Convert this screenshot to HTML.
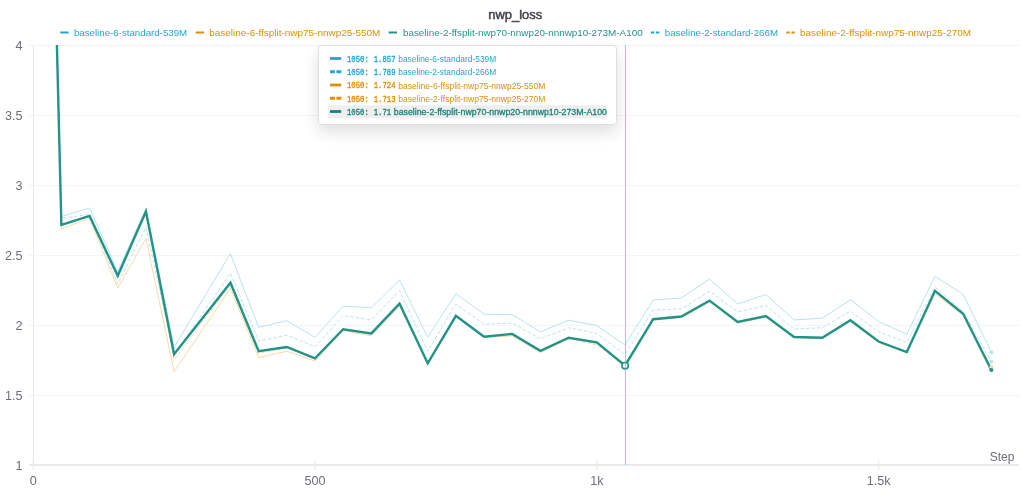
<!DOCTYPE html>
<html><head><meta charset="utf-8"><style>
html,body{margin:0;padding:0;background:#fff;width:1023px;height:497px;overflow:hidden;}
svg text{font-family:"Liberation Sans",sans-serif;}
svg text.mono{font-family:"Liberation Mono",monospace;font-weight:normal;font-size:8.8px;stroke-width:0.35px;}
</style></head><body>
<svg width="1023" height="497" viewBox="0 0 1023 497" style="position:absolute;left:0;top:0;will-change:transform">
<defs>
<clipPath id="c"><rect x="33" y="45" width="990" height="421"/></clipPath>
<filter id="sh" x="-30%" y="-60%" width="160%" height="240%"><feGaussianBlur in="SourceAlpha" stdDeviation="8"/><feOffset dy="7"/><feComponentTransfer><feFuncA type="linear" slope="0.13"/></feComponentTransfer><feMerge><feMergeNode/><feMergeNode in="SourceGraphic"/></feMerge></filter>
</defs>
<g stroke="#f4f4f4" stroke-width="1">
<line x1="29" x2="1019" y1="45.5" y2="45.5"/>
<line x1="29" x2="1019" y1="115.5" y2="115.5"/>
<line x1="29" x2="1019" y1="185.5" y2="185.5"/>
<line x1="29" x2="1019" y1="255.5" y2="255.5"/>
<line x1="29" x2="1019" y1="325.5" y2="325.5"/>
<line x1="29" x2="1019" y1="395.5" y2="395.5"/>
</g>
<g stroke="#e6e6ea" stroke-width="1">
<line x1="33.5" x2="33.5" y1="45" y2="466"/>
<line x1="29" x2="1019" y1="465" y2="465" stroke="#eaeaee" stroke-width="2"/>
<line x1="33.20" x2="33.20" y1="460.5" y2="469.5"/>
<line x1="315.00" x2="315.00" y1="460.5" y2="469.5"/>
<line x1="596.80" x2="596.80" y1="460.5" y2="469.5"/>
<line x1="878.60" x2="878.60" y1="460.5" y2="469.5"/>
</g>
<g clip-path="url(#c)" fill="none" stroke-linejoin="miter">
<path d="M33.20,-907.00 L61.38,216.50 L89.56,208.00 L117.74,271.50 L145.92,208.50 L174.10,347.20 L230.46,253.70 L258.64,327.40 L286.82,320.60 L315.00,337.40 L343.18,306.10 L371.36,307.80 L399.54,280.00 L427.72,337.20 L455.90,293.70 L484.08,314.20 L512.26,314.50 L540.44,331.90 L568.62,320.20 L596.80,325.50 L624.98,345.00 L653.16,300.10 L681.34,297.90 L709.52,279.10 L737.70,303.90 L765.88,294.60 L794.06,319.90 L822.24,318.30 L850.42,299.80 L878.60,321.40 L906.78,334.40 L934.96,276.30 L963.14,294.30 L991.32,352.30" stroke="#b8e3f0" stroke-width="1"/>
<path d="M33.20,-907.00 L61.38,218.30 L89.56,214.50 L117.74,284.00 L145.92,227.20 L174.10,355.00 L230.46,273.00 L258.64,341.00 L286.82,335.10 L315.00,346.70 L343.18,315.60 L371.36,319.90 L399.54,290.70 L427.72,351.20 L455.90,304.10 L484.08,324.30 L512.26,323.00 L540.44,338.90 L568.62,327.80 L596.80,333.40 L624.98,354.50 L653.16,310.10 L681.34,308.90 L709.52,291.20 L737.70,311.90 L765.88,305.50 L794.06,329.00 L822.24,327.70 L850.42,311.20 L878.60,331.80 L906.78,342.50 L934.96,287.20 L963.14,311.80 L991.32,361.80" stroke="#b8e3f0" stroke-width="1" stroke-dasharray="3.5 2"/>
<path d="M33.20,-907.00 L61.38,228.80 L89.56,218.20 L117.74,288.00 L145.92,238.60 L174.10,371.70 L230.46,288.30 L258.64,357.60 L286.82,351.20 L315.00,360.90 L343.18,330.40 L371.36,335.80 L399.54,306.00 L427.72,364.50 L455.90,316.80 L484.08,337.70 L512.26,335.80 L540.44,352.50 L568.62,338.70 L596.80,343.50 L624.98,363.60 L653.16,320.00 L681.34,317.50 L709.52,301.50 L737.70,323.00 L765.88,317.00 L794.06,337.50 L822.24,338.50 L850.42,321.30 L878.60,342.50 L906.78,353.00 L934.96,294.00 L963.14,315.00 L991.32,366.90" stroke="#f7dbaa" stroke-width="1"/>
<path d="M33.20,-907.00 L61.38,225.50 L89.56,216.50 L117.74,277.50 L145.92,212.50 L174.10,360.00 L230.46,284.00 L258.64,353.00 L286.82,348.00 L315.00,359.00 L343.18,330.00 L371.36,334.50 L399.54,304.50 L427.72,364.00 L455.90,316.30 L484.08,337.00 L512.26,335.00 L540.44,352.00 L568.62,338.50 L596.80,345.00 L624.98,365.20 L653.16,319.50 L681.34,317.00 L709.52,301.00 L737.70,322.50 L765.88,316.50 L794.06,337.00 L822.24,338.20 L850.42,320.80 L878.60,342.00 L906.78,352.50 L934.96,292.00 L963.14,314.50 L991.32,368.00" stroke="#f7dbaa" stroke-width="1" stroke-dasharray="3.5 2"/>
<path d="M33.20,-907.00 L61.38,224.80 L89.56,215.90 L117.74,275.80 L145.92,211.50 L174.10,354.20 L230.46,282.70 L258.64,351.20 L286.82,347.00 L315.00,358.30 L343.18,329.20 L371.36,333.40 L399.54,303.60 L427.72,363.30 L455.90,315.80 L484.08,336.70 L512.26,333.90 L540.44,350.80 L568.62,337.70 L596.80,342.30 L624.98,365.60 L653.16,319.20 L681.34,316.50 L709.52,300.60 L737.70,322.00 L765.88,316.10 L794.06,337.00 L822.24,337.80 L850.42,320.30 L878.60,341.50 L906.78,352.00 L934.96,290.80 L963.14,313.80 L991.32,370.00" stroke="#229487" stroke-width="2.4" stroke-linecap="round"/>
</g>
<circle cx="625.1" cy="365.7" r="3.2" fill="#fff" stroke="#229487" stroke-width="1.6"/>
<line x1="625.5" x2="625.5" y1="45" y2="465" stroke="#3cc6dc" stroke-opacity="0.65" stroke-width="1"/>
<circle cx="991.32" cy="352.3" r="2" fill="#b8e3f0"/>
<circle cx="991.32" cy="361.8" r="2" fill="#b8e3f0"/>
<circle cx="991.32" cy="366.9" r="2" fill="#f7dbaa"/>
<circle cx="991.32" cy="370" r="2.1" fill="#229487"/>
<text x="488.2" y="19" textLength="54" lengthAdjust="spacingAndGlyphs" font-size="12.4" fill="#3f3f46" stroke="#3f3f46" stroke-width="0.45">nwp_loss</text>
<line x1="60.2" x2="68.60000000000001" y1="32.5" y2="32.5" stroke="#1fa6d4" stroke-width="2"/>
<text x="73.9" y="36" textLength="113.3" lengthAdjust="spacingAndGlyphs" fill="#1fa6d4" font-size="9.8">baseline-6-standard-539M</text>
<line x1="195.6" x2="204.0" y1="32.5" y2="32.5" stroke="#dd8f05" stroke-width="2"/>
<text x="209.3" y="36" textLength="171.1" lengthAdjust="spacingAndGlyphs" fill="#dd8f05" font-size="9.8">baseline-6-ffsplit-nwp75-nnwp25-550M</text>
<line x1="388.6" x2="397.0" y1="32.5" y2="32.5" stroke="#229487" stroke-width="2"/>
<text x="402.9" y="36" textLength="239.8" lengthAdjust="spacingAndGlyphs" fill="#229487" font-size="9.8">baseline-2-ffsplit-nwp70-nnwp20-nnnwp10-273M-A100</text>
<line x1="650.9" x2="659.3" y1="32.5" y2="32.5" stroke="#1fa6d4" stroke-width="2" stroke-dasharray="3.4 1.6"/>
<text x="664.8" y="36" textLength="113.2" lengthAdjust="spacingAndGlyphs" fill="#1fa6d4" font-size="9.8">baseline-2-standard-266M</text>
<line x1="786.4" x2="794.8" y1="32.5" y2="32.5" stroke="#dd8f05" stroke-width="2" stroke-dasharray="3.4 1.6"/>
<text x="800.0" y="36" textLength="171.0" lengthAdjust="spacingAndGlyphs" fill="#dd8f05" font-size="9.8">baseline-2-ffsplit-nwp75-nnwp25-270M</text>
<g font-size="12.6" fill="#6e6e78">
<text x="22.6" y="50.2" text-anchor="end">4</text>
<text x="22.6" y="120.2" text-anchor="end">3.5</text>
<text x="22.6" y="190.2" text-anchor="end">3</text>
<text x="22.6" y="260.2" text-anchor="end">2.5</text>
<text x="22.6" y="330.2" text-anchor="end">2</text>
<text x="22.6" y="400.2" text-anchor="end">1.5</text>
<text x="22.6" y="470.2" text-anchor="end">1</text>
<text x="33.20" y="485.3" text-anchor="middle">0</text>
<text x="315.00" y="485.3" text-anchor="middle">500</text>
<text x="596.80" y="485.3" text-anchor="middle">1k</text>
<text x="878.60" y="485.3" text-anchor="middle">1.5k</text>
<text x="1014.4" y="460.6" text-anchor="end" font-size="12">Step</text>
</g>
<g filter="url(#sh)"><rect x="318.5" y="45.5" width="298" height="79" rx="3" fill="#fff" stroke="#dedede"/></g>
<rect x="328" y="105.2" width="279" height="13" fill="#efefef"/>
<line x1="330" x2="341.2" y1="58.5" y2="58.5" stroke="#1fa6d4" stroke-width="2.8"/>
<text x="347" y="61.8" textLength="21.8" lengthAdjust="spacingAndGlyphs" fill="#1fa6d4" stroke="#1fa6d4" class="mono">1050:</text>
<text x="373.75" y="61.8" textLength="21.8" lengthAdjust="spacingAndGlyphs" fill="#1fa6d4" stroke="#1fa6d4" class="mono">1.857</text>
<text x="398.25" y="62.099999999999994" textLength="98.0" lengthAdjust="spacingAndGlyphs" fill="#1fa6d4" font-size="9.1">baseline-6-standard-539M</text>
<line x1="330" x2="341.5" y1="71.75" y2="71.75" stroke="#1fa6d4" stroke-width="2.8" stroke-dasharray="4.9 1.5"/>
<text x="347" y="75.05" textLength="21.8" lengthAdjust="spacingAndGlyphs" fill="#1fa6d4" stroke="#1fa6d4" class="mono">1050:</text>
<text x="373.75" y="75.05" textLength="21.8" lengthAdjust="spacingAndGlyphs" fill="#1fa6d4" stroke="#1fa6d4" class="mono">1.789</text>
<text x="398.25" y="75.35" textLength="98.0" lengthAdjust="spacingAndGlyphs" fill="#1fa6d4" font-size="9.1">baseline-2-standard-266M</text>
<line x1="330" x2="341.2" y1="85.0" y2="85.0" stroke="#dd8f05" stroke-width="2.8"/>
<text x="347" y="88.3" textLength="21.8" lengthAdjust="spacingAndGlyphs" fill="#dd8f05" stroke="#dd8f05" class="mono">1050:</text>
<text x="373.75" y="88.3" textLength="21.8" lengthAdjust="spacingAndGlyphs" fill="#dd8f05" stroke="#dd8f05" class="mono">1.724</text>
<text x="398.25" y="88.6" textLength="147.2" lengthAdjust="spacingAndGlyphs" fill="#dd8f05" font-size="9.1">baseline-6-ffsplit-nwp75-nnwp25-550M</text>
<line x1="330" x2="341.5" y1="98.25" y2="98.25" stroke="#dd8f05" stroke-width="2.8" stroke-dasharray="4.9 1.5"/>
<text x="347" y="101.55" textLength="21.8" lengthAdjust="spacingAndGlyphs" fill="#dd8f05" stroke="#dd8f05" class="mono">1050:</text>
<text x="373.75" y="101.55" textLength="21.8" lengthAdjust="spacingAndGlyphs" fill="#dd8f05" stroke="#dd8f05" class="mono">1.713</text>
<text x="398.25" y="101.85" textLength="147.2" lengthAdjust="spacingAndGlyphs" fill="#dd8f05" font-size="9.1">baseline-2-ffsplit-nwp75-nnwp25-270M</text>
<line x1="330" x2="341.2" y1="111.5" y2="111.5" stroke="#1a8478" stroke-width="2.8"/>
<text x="347" y="114.8" textLength="21.8" lengthAdjust="spacingAndGlyphs" fill="#1a8478" stroke="#1a8478" class="mono">1050:</text>
<text x="373.75" y="114.8" textLength="17.34" lengthAdjust="spacingAndGlyphs" fill="#1a8478" stroke="#1a8478" class="mono">1.71</text>
<text x="393.78999999999996" y="115.1" textLength="213.2" lengthAdjust="spacingAndGlyphs" fill="#1a8478" font-size="9.1" stroke="#1a8478" stroke-width="0.3">baseline-2-ffsplit-nwp70-nnwp20-nnnwp10-273M-A100</text>
</svg>
</body></html>
